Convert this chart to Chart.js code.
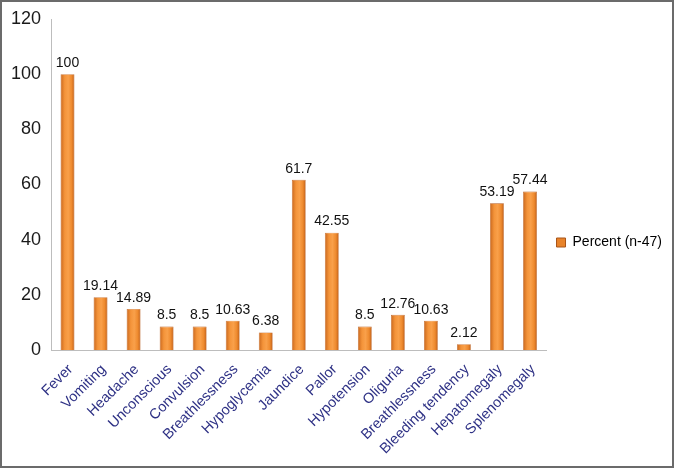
<!DOCTYPE html>
<html><head><meta charset="utf-8">
<script src="https://cdn.jsdelivr.net/npm/chart.js@4.4.1/dist/chart.umd.min.js"></script>
<style>
html,body{margin:0;padding:0;background:#fff;}
#wrap{position:relative;width:674px;height:468px;box-sizing:border-box;border:2px solid #6b6b6b;}
canvas{display:block;}
</style></head><body>
<div id="wrap"><canvas id="c" width="670" height="464"></canvas></div>
<script>
const categories = ["Fever","Vomiting","Headache","Unconscious","Convulsion","Breathlessness","Hypoglycemia","Jaundice","Pallor","Hypotension","Oliguria","Breathlessness","Bleeding tendency","Hepatomegaly","Splenomegaly"];
const percentValues = [100,19.14,14.89,8.5,8.5,10.63,6.38,61.7,42.55,8.5,12.76,10.63,2.12,53.19,57.44];
const valueLabels = ["100","19.14","14.89","8.5","8.5","10.63","6.38","61.7","42.55","8.5","12.76","10.63","2.12","53.19","57.44"];
const seriesName = "Percent (n-47)";
const yTicks = [0,20,40,60,80,100,120];

const FONT = '"Liberation Sans", Arial, sans-serif';

function barGradient(ctx){
  const chart = ctx.chart;
  const x = chart.scales && chart.scales.x;
  if(!x || ctx.dataIndex === undefined || !chart.chartArea) return '#F39233';
  const cx = x.getPixelForValue(ctx.dataIndex);
  const w = 7;
  const g = chart.ctx.createLinearGradient(cx - w, 0, cx + w, 0);
  g.addColorStop(0, '#C8661C');
  g.addColorStop(0.3, '#F4943A');
  g.addColorStop(0.55, '#F9A04A');
  g.addColorStop(0.8, '#EE8A2E');
  g.addColorStop(1, '#BE5E18');
  return g;
}

const labelPlugin = {
  id: 'valueLabels',
  afterDatasetsDraw(chart){
    const c = chart.ctx;
    const meta = chart.getDatasetMeta(0);
    c.save();
    c.font = '14px ' + FONT;
    c.fillStyle = '#111';
    c.textAlign = 'center';
    c.textBaseline = 'bottom';
    meta.data.forEach((bar, i) => {
      c.fillText(valueLabels[i], bar.x, bar.y - 4);
    });
    c.restore();
  }
};

new Chart(document.getElementById('c'), {
  type: 'bar',
  data: {
    labels: categories,
    datasets: [{
      label: seriesName,
      data: percentValues,
      backgroundColor: barGradient,
      borderColor: '#B5581A',
      borderWidth: 0.6,
      barPercentage: 0.42,
      categoryPercentage: 1.0
    }]
  },
  options: {
    responsive: false,
    animation: false,
    devicePixelRatio: 1,
    layout: { padding: { top: 17, left: 0, right: 0, bottom: 0 } },
    plugins: {
      legend: {
        position: 'right',
        labels: {
          boxWidth: 9, boxHeight: 9, padding: 10,
          color: '#222',
          font: { size: 14, family: FONT },
          generateLabels(chart){
            return [{ text: seriesName, fillStyle: '#E8832A', strokeStyle: '#A85418', lineWidth: 1, datasetIndex: 0 }];
          }
        }
      },
      tooltip: { enabled: false }
    },
    scales: {
      x: {
        grid: { display: false },
        border: { display: true, color: '#BDBDBD', width: 1 },
        ticks: {
          minRotation: 45, maxRotation: 45, autoSkip: false,
          color: '#2E3185', padding: 3, labelOffset: 3,
          font: { size: 14.5, family: FONT }
        },
        afterFit(s){ s.height = 116; }
      },
      y: {
        min: 0, max: 120,
        afterBuildTicks(s){ s.ticks = yTicks.map(v => ({ value: v })); },
        grid: { display: false, drawTicks: false },
        border: { display: true, color: '#BDBDBD', width: 1 },
        ticks: {
          color: '#1a1a1a', padding: 10,
          font: { size: 18, family: FONT }
        },
        afterFit(s){ s.width = 49; s.paddingTop = 0; s.paddingBottom = 0; }
      }
    }
  },
  plugins: [labelPlugin]
});
</script>
</body></html>
